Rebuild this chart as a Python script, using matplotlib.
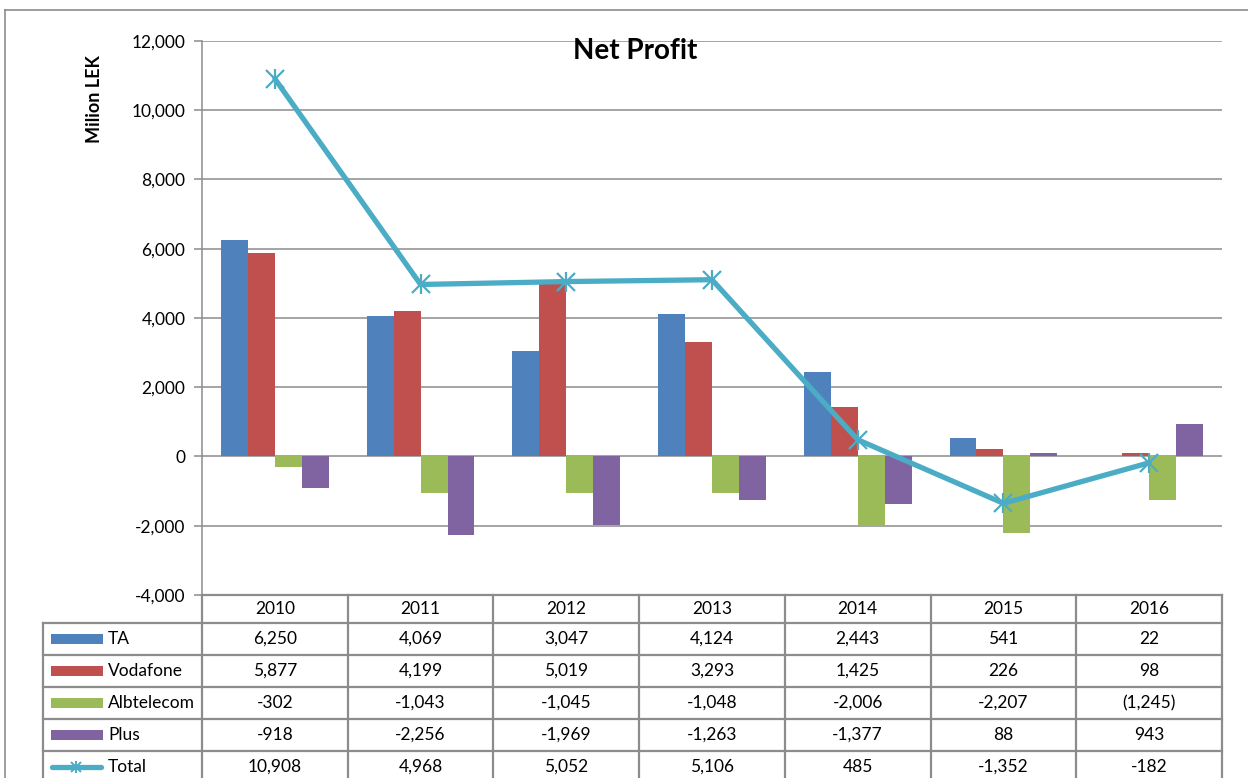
import matplotlib
matplotlib.use('Agg')
import matplotlib.pyplot as plt
from matplotlib.lines import Line2D
from matplotlib.patches import Rectangle

years = ['2010', '2011', '2012', '2013', '2014', '2015', '2016']
ta = [6250, 4069, 3047, 4124, 2443, 541, 22]
vodafone = [5877, 4199, 5019, 3293, 1425, 226, 98]
albtelecom = [-302, -1043, -1045, -1048, -2006, -2207, -1245]
plus = [-918, -2256, -1969, -1263, -1377, 88, 943]
total = [10908, 4968, 5052, 5106, 485, -1352, -182]

series_names = ['TA', 'Vodafone', 'Albtelecom', 'Plus']
series_vals = [ta, vodafone, albtelecom, plus]
series_colors = ['#4F81BD', '#C0504D', '#9BBB59', '#8064A2']
total_color = '#4BACC6'
# cells shown in accounting format (negatives in brackets)
bracket_cells = {('Albtelecom', '2016')}

W, H = 1248, 778
FONT = 'Lato'
FS = 12.5
GRID = '#8C8C8C'


def fmt(name, year, v):
    if (name, year) in bracket_cells and v < 0:
        return f'({-v:,})'
    return f'{v:,}'


def fx(x):
    return x / W


def fy(y):
    return 1 - y / H


fig = plt.figure(figsize=(W / 100, H / 100), dpi=100)

# plot area in pixels
x0, x1 = 202, 1222
ytop, ybot = 41, 595
ax = fig.add_axes([fx(x0), fy(ybot), fx(x1 - x0), (ybot - ytop) / H])

n = len(years)
bw = 0.185
for k, (vals, c) in enumerate(zip(series_vals, series_colors)):
    xs = [i + (k - 1.5) * bw for i in range(n)]
    ax.bar(xs, vals, width=bw, color=c, edgecolor='none', zorder=2)

ax.plot(range(n), total, color=total_color, lw=3.8, zorder=3,
        solid_capstyle='round', solid_joinstyle='round')
ax.plot(range(n), total, ls='none', marker='x', ms=13, mew=1.6,
        color=total_color, zorder=4)
ax.plot(range(n), total, ls='none', marker='|', ms=15, mew=1.6,
        color=total_color, zorder=4)

ax.set_xlim(-0.5, n - 0.5)
ax.set_ylim(-4000, 12000)
ax.set_yticks(range(-4000, 12001, 2000))
ax.set_yticklabels([f'{t:,}' for t in range(-4000, 12001, 2000)],
                   fontsize=FS, family=FONT)
ax.set_xticks([])
ax.grid(True, axis='y', color=GRID, lw=1.1, zorder=0)
ax.tick_params(axis='y', length=6, color=GRID, width=1.1, pad=6)
for s in ['top', 'right', 'bottom']:
    ax.spines[s].set_visible(False)
ax.spines['left'].set_color(GRID)
ax.spines['left'].set_linewidth(1.1)

fig.text(fx(635), fy(51), 'Net Profit', ha='center', va='center',
         fontsize=20, fontweight='bold', family=FONT)
fig.text(fx(94), fy(99), 'Milion LEK', ha='center', va='center',
         rotation=90, fontsize=13, fontweight='bold', family=FONT)

# outer chart border
fig.add_artist(Line2D([fx(5), fx(5)], [fy(10), fy(790)], color=GRID, lw=1.2))
fig.add_artist(Line2D([fx(5), fx(1260)], [fy(10), fy(10)], color=GRID, lw=1.2))

# data table
colw = (x1 - x0) / n
col_edges = [x0 + i * colw for i in range(n + 1)]
row_edges = [623 + i * 32 for i in range(6)]
leg_x = 43
tlw = 1.6

def hline(y, xa, xb):
    fig.add_artist(Line2D([fx(xa), fx(xb)], [fy(y), fy(y)], color=GRID, lw=tlw))

def vline(x, ya, yb):
    fig.add_artist(Line2D([fx(x), fx(x)], [fy(ya), fy(yb)], color=GRID, lw=tlw))

hline(ybot, x0, x1)
for y in row_edges[:-1]:
    hline(y, leg_x, x1)
for xe in col_edges:
    vline(xe, ybot, 790)
vline(leg_x, row_edges[0], 790)

for i, yr in enumerate(years):
    fig.text(fx(x0 + (i + 0.5) * colw), fy((ybot + row_edges[0]) / 2), yr,
             ha='center', va='center', fontsize=FS, family=FONT)

rows = list(zip(series_names, series_vals)) + [('Total', total)]
for r, (name, vals) in enumerate(rows):
    yc = row_edges[r] + 16
    if name == 'Total':
        fig.add_artist(Line2D([fx(52), fx(101)], [fy(yc), fy(yc)], color=total_color,
                              lw=3.8, solid_capstyle='round'))
        fig.add_artist(Line2D([fx(76)], [fy(yc)], marker='x', ms=7, mew=1.4,
                              color=total_color))
        fig.add_artist(Line2D([fx(76)], [fy(yc)], marker='|', ms=9, mew=1.4,
                              color=total_color))
    else:
        fig.add_artist(Rectangle((fx(51), fy(yc + 5)), fx(52), 10 / H,
                                 color=series_colors[r], lw=0))
    fig.text(fx(108), fy(yc), name, ha='left', va='center', fontsize=FS, family=FONT)
    for i, v in enumerate(vals):
        fig.text(fx(x0 + (i + 0.5) * colw), fy(yc), fmt(name, years[i], v),
                 ha='center', va='center', fontsize=FS, family=FONT)

fig.savefig('out.png', dpi=100)
